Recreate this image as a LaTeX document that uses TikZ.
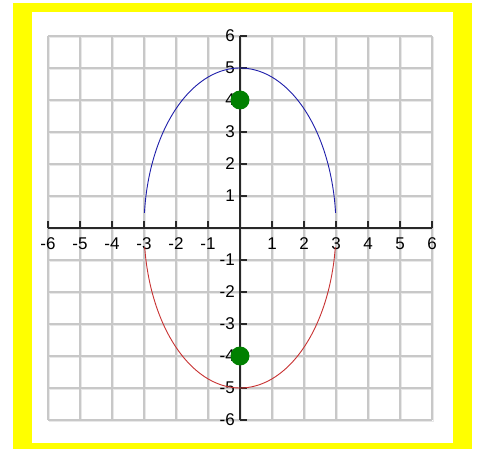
\documentclass[tikz,border=0pt]{standalone}
\usepackage{fontspec}
\setmainfont{Liberation Sans}
\definecolor{frameyellow}{RGB}{255,255,0}
\definecolor{gridgray}{RGB}{200,200,200}
\definecolor{gridshadow}{RGB}{232,232,232}
\definecolor{axisgray}{RGB}{40,40,40}
\definecolor{curveblue}{RGB}{30,30,170}
\definecolor{curvered}{RGB}{200,50,50}
\definecolor{focusgreen}{RGB}{0,128,0}
\tikzset{
  gridline/.style={draw=gridgray, line width=1.2pt},
  gridshade/.style={draw=gridshadow, line width=1.2pt},
  axisline/.style={draw=axisgray, line width=1.3pt},
  ticklabel/.style={inner sep=0pt, font=\fontsize{17}{17}\selectfont},
  focusdot/.style={circle, fill=focusgreen, minimum size=19pt, inner sep=0pt}
}
\begin{document}
\begin{tikzpicture}[x=1pt,y=-1pt]
\useasboundingbox (0,0) rectangle (477,449);
% yellow frame
\fill[frameyellow] (13,3) rectangle (472,449);
\fill[white] (32,12) rectangle (453,443);
% grid shadow
\foreach \k in {0,...,12}{
  \draw[gridshade] ({49.5+32*\k},37.5) -- ({49.5+32*\k},421.5);
  \draw[gridshade] (49.5,{37.5+32*\k}) -- (433.5,{37.5+32*\k});
}
% grid
\foreach \k in {0,...,12}{
  \draw[gridline] ({48+32*\k},36) -- ({48+32*\k},420);
  \draw[gridline] (48,{36+32*\k}) -- (432,{36+32*\k});
}
% axes
\draw[axisline] (48,228) -- (432,228);
\draw[axisline] (240,36) -- (240,420);
\foreach \k in {-6,...,6}{
  \draw[axisline] ({240+32*\k},228) -- ({240+32*\k},221.5);
  \draw[axisline] (240,{228-32*\k}) -- (246.5,{228-32*\k});
}
% labels
\foreach \k in {-6,-5,-4,-3,-2,-1,1,2,3,4,5,6}{
  \node[ticklabel] (xl\k) at ({240+32*\k},244) {\k};
  \node[ticklabel, anchor=east] (yl\k) at (235,{228-32*\k}) {\k};
}
% ellipse halves
\draw[curveblue, line width=0.9pt] plot[domain=5.4:174.6, samples=120] ({240+96*cos(\x)},{228-160*sin(\x)});
\draw[curvered, line width=0.9pt] plot[domain=186.9:353.1, samples=120] ({240+96*cos(\x)},{228-160*sin(\x)});
% foci
\node[focusdot] (f1) at (240,100) {};
\node[focusdot] (f2) at (240,356) {};
\end{tikzpicture}
\end{document}
